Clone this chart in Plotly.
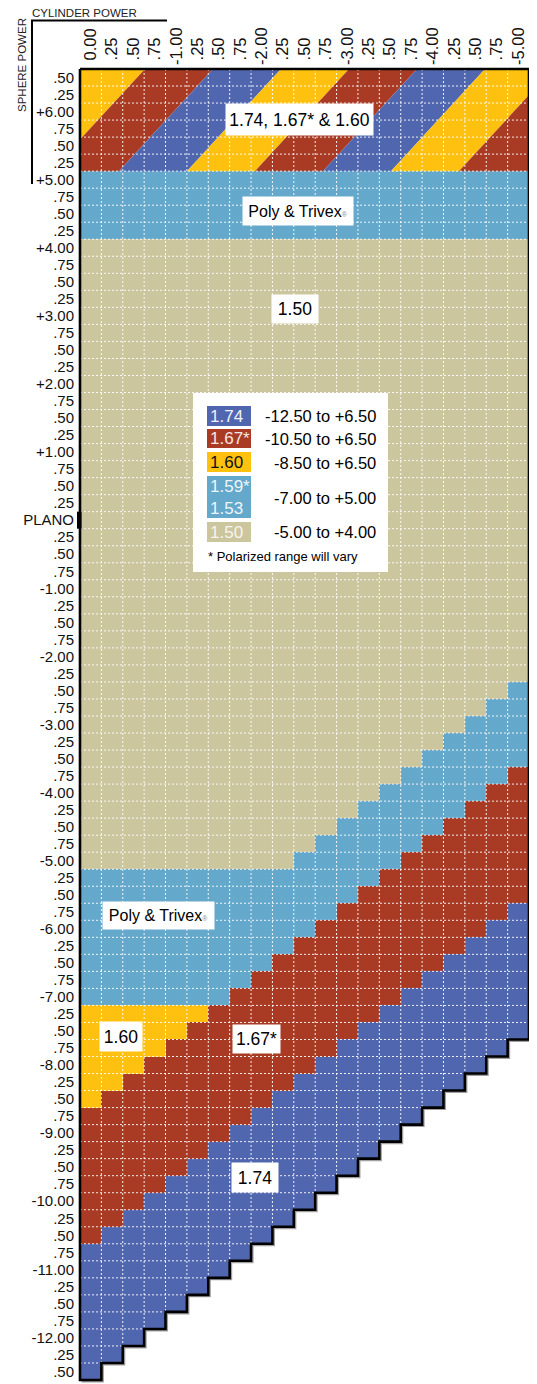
import plotly.graph_objects as go

# ---------------- data ----------------
cyl_values = [0.00, -0.25, -0.50, -0.75, -1.00, -1.25, -1.50, -1.75, -2.00, -2.25, -2.50,
              -2.75, -3.00, -3.25, -3.50, -3.75, -4.00, -4.25, -4.50, -4.75, -5.00]
cyl_labels = ["0.00", ".25", ".50", ".75", "-1.00", ".25", ".50", ".75", "-2.00", ".25", ".50",
              ".75", "-3.00", ".25", ".50", ".75", "-4.00", ".25", ".50", ".75", "-5.00"]

sphere_values = [6.50, 6.25, 6.00, 5.75, 5.50, 5.25, 5.00, 4.75, 4.50, 4.25, 4.00, 3.75, 3.50,
                 3.25, 3.00, 2.75, 2.50, 2.25, 2.00, 1.75, 1.50, 1.25, 1.00, 0.75, 0.50, 0.25,
                 0.00, -0.25, -0.50, -0.75, -1.00, -1.25, -1.50, -1.75, -2.00, -2.25, -2.50,
                 -2.75, -3.00, -3.25, -3.50, -3.75, -4.00, -4.25, -4.50, -4.75, -5.00, -5.25,
                 -5.50, -5.75, -6.00, -6.25, -6.50, -6.75, -7.00, -7.25, -7.50, -7.75, -8.00,
                 -8.25, -8.50, -8.75, -9.00, -9.25, -9.50, -9.75, -10.00, -10.25, -10.50,
                 -10.75, -11.00, -11.25, -11.50, -11.75, -12.00, -12.25, -12.50]
sphere_labels = [".50", ".25", "+6.00", ".75", ".50", ".25", "+5.00", ".75", ".50", ".25", "+4.00",
                 ".75", ".50", ".25", "+3.00", ".75", ".50", ".25", "+2.00", ".75", ".50", ".25",
                 "+1.00", ".75", ".50", ".25", "PLANO", ".25", ".50", ".75", "-1.00", ".25", ".50",
                 ".75", "-2.00", ".25", ".50", ".75", "-3.00", ".25", ".50", ".75", "-4.00", ".25",
                 ".50", ".75", "-5.00", ".25", ".50", ".75", "-6.00", ".25", ".50", ".75", "-7.00",
                 ".25", ".50", ".75", "-8.00", ".25", ".50", ".75", "-9.00", ".25", ".50", ".75",
                 "-10.00", ".25", ".50", ".75", "-11.00", ".25", ".50", ".75", "-12.00", ".25", ".50"]

# one string per sphere row, one character per cylinder column
# S = striped 1.74/1.67/1.60 zone, P = Poly & Trivex, T = 1.50, Y = 1.60, R = 1.67, B = 1.74, . = none
grid_rows = [
    "SSSSSSSSSSSSSSSSSSSSS",  # +6.50
    "SSSSSSSSSSSSSSSSSSSSS",
    "SSSSSSSSSSSSSSSSSSSSS",  # +6.00
    "SSSSSSSSSSSSSSSSSSSSS",
    "SSSSSSSSSSSSSSSSSSSSS",
    "SSSSSSSSSSSSSSSSSSSSS",
    "PPPPPPPPPPPPPPPPPPPPP",  # +5.00
    "PPPPPPPPPPPPPPPPPPPPP",
    "PPPPPPPPPPPPPPPPPPPPP",
    "PPPPPPPPPPPPPPPPPPPPP",
    "TTTTTTTTTTTTTTTTTTTTT",  # +4.00
    "TTTTTTTTTTTTTTTTTTTTT",
    "TTTTTTTTTTTTTTTTTTTTT",
    "TTTTTTTTTTTTTTTTTTTTT",
    "TTTTTTTTTTTTTTTTTTTTT",  # +3.00
    "TTTTTTTTTTTTTTTTTTTTT",
    "TTTTTTTTTTTTTTTTTTTTT",
    "TTTTTTTTTTTTTTTTTTTTT",
    "TTTTTTTTTTTTTTTTTTTTT",  # +2.00
    "TTTTTTTTTTTTTTTTTTTTT",
    "TTTTTTTTTTTTTTTTTTTTT",
    "TTTTTTTTTTTTTTTTTTTTT",
    "TTTTTTTTTTTTTTTTTTTTT",  # +1.00
    "TTTTTTTTTTTTTTTTTTTTT",
    "TTTTTTTTTTTTTTTTTTTTT",
    "TTTTTTTTTTTTTTTTTTTTT",
    "TTTTTTTTTTTTTTTTTTTTT",  # PLANO
    "TTTTTTTTTTTTTTTTTTTTT",
    "TTTTTTTTTTTTTTTTTTTTT",
    "TTTTTTTTTTTTTTTTTTTTT",
    "TTTTTTTTTTTTTTTTTTTTT",  # -1.00
    "TTTTTTTTTTTTTTTTTTTTT",
    "TTTTTTTTTTTTTTTTTTTTT",
    "TTTTTTTTTTTTTTTTTTTTT",
    "TTTTTTTTTTTTTTTTTTTTT",  # -2.00
    "TTTTTTTTTTTTTTTTTTTTT",
    "TTTTTTTTTTTTTTTTTTTTP",
    "TTTTTTTTTTTTTTTTTTTPP",
    "TTTTTTTTTTTTTTTTTTPPP",  # -3.00
    "TTTTTTTTTTTTTTTTTPPPP",
    "TTTTTTTTTTTTTTTTPPPPP",
    "TTTTTTTTTTTTTTTPPPPPR",
    "TTTTTTTTTTTTTTPPPPPRR",  # -4.00
    "TTTTTTTTTTTTTPPPPPRRR",
    "TTTTTTTTTTTTPPPPPRRRR",
    "TTTTTTTTTTTPPPPPRRRRR",
    "TTTTTTTTTTPPPPPRRRRRR",  # -5.00
    "PPPPPPPPPPPPPPRRRRRRR",
    "PPPPPPPPPPPPPRRRRRRRR",
    "PPPPPPPPPPPPRRRRRRRRB",
    "PPPPPPPPPPPRRRRRRRRBB",  # -6.00
    "PPPPPPPPPPRRRRRRRRBBB",
    "PPPPPPPPPRRRRRRRRBBBB",
    "PPPPPPPPRRRRRRRRBBBBB",
    "PPPPPPPRRRRRRRRBBBBBB",  # -7.00
    "YYYYYYRRRRRRRRBBBBBBB",
    "YYYYYRRRRRRRRBBBBBBBB",
    "YYYYRRRRRRRRBBBBBBBB.",
    "YYYRRRRRRRRBBBBBBBB..",  # -8.00
    "YYRRRRRRRRBBBBBBBB...",
    "YRRRRRRRRBBBBBBBB....",
    "RRRRRRRRBBBBBBBB.....",
    "RRRRRRRBBBBBBBB......",  # -9.00
    "RRRRRRBBBBBBBB.......",
    "RRRRRBBBBBBBB........",
    "RRRRBBBBBBBB.........",
    "RRRBBBBBBBB..........",  # -10.00
    "RRBBBBBBBB...........",
    "RBBBBBBBB............",
    "BBBBBBBB.............",
    "BBBBBBB..............",  # -11.00
    "BBBBBB...............",
    "BBBBB................",
    "BBBB.................",
    "BBB..................",  # -12.00
    "BB...................",
    "B....................",
]

material_codes = ["T", "P", "Y", "R", "B"]
material_names = ["1.50", "Poly & Trivex (1.53 / 1.59*)", "1.60", "1.67*", "1.74"]
material_colors = ["#CCC69E", "#64A8CB", "#FEC10F", "#A93B25", "#5067B0"]

legend_labels = ["1.74", "1.67*", "1.60", "1.59*<br>1.53", "1.50"]
legend_ranges = ["-12.50 to +6.50", "-10.50 to +6.50", "-8.50 to +6.50", "-7.00 to +5.00", "-5.00 to +4.00"]
legend_codes = ["B", "R", "Y", "P", "T"]

# diagonal stripes of the high-plus zone (in dioptres of cylinder)
stripe_cycle = ["Y", "R", "B"]
stripe_first_top = -0.635   # cylinder where the first boundary meets the top edge
stripe_period = 0.795       # horizontal width of one stripe
stripe_shift = 1.10         # horizontal drift of a boundary over the striped band

FONT = "Liberation Sans, Arial, Helvetica, sans-serif"

# ---------------- derived geometry ----------------
half = 0.125
left_edge = cyl_values[0] + half
right_edge = cyl_values[-1] - half
top_edge = sphere_values[0] + half
bottom_edge = sphere_values[-1] - half
pad_x, pad_y = 0.035, 0.044

code_index = {c: i for i, c in enumerate(material_codes)}
row_end = [len(r.rstrip(".")) for r in grid_rows]

z, hover = [], []
for j, row in enumerate(grid_rows):
    zr, hr = [], []
    for c, ch in enumerate(row):
        if ch in code_index:
            zr.append(code_index[ch])
            hr.append(material_names[code_index[ch]])
        else:
            zr.append(None)
            hr.append("1.74, 1.67* & 1.60" if ch == "S" else "")
    z.append(zr)
    hover.append(hr)

n = len(material_codes)
colorscale = []
for i, col in enumerate(material_colors):
    colorscale.append([i / n, col])
    colorscale.append([(i + 1) / n, col])

fig = go.Figure()

# striped zone
stripe_rows = [j for j, r in enumerate(grid_rows) if r.startswith("S")]
s_top = sphere_values[stripe_rows[0]] + half
s_bot = sphere_values[stripe_rows[-1]] - half


def boundary(k, s):
    return stripe_first_top - k * stripe_period + stripe_shift * (s_top - s) / (s_top - s_bot)


def clip(poly, keep, inter):
    out = []
    for i in range(len(poly)):
        p, q = poly[i - 1], poly[i]
        if keep(q):
            if not keep(p):
                out.append(inter(p, q))
            out.append(q)
        elif keep(p):
            out.append(inter(p, q))
    return out


def x_cut(xc):
    def f(p, q):
        t = (xc - p[0]) / (q[0] - p[0])
        return (xc, p[1] + t * (q[1] - p[1]))
    return f


for i in range(-1, 10):
    poly = [(boundary(i - 1, s_top), s_top), (boundary(i, s_top), s_top),
            (boundary(i, s_bot), s_bot), (boundary(i - 1, s_bot), s_bot)]
    poly = clip(poly, lambda p: p[0] <= left_edge, x_cut(left_edge))
    if poly:
        poly = clip(poly, lambda p: p[0] >= right_edge, x_cut(right_edge))
    if len(poly) < 3:
        continue
    color = material_colors[code_index[stripe_cycle[i % 3]]]
    fig.add_trace(go.Scatter(x=[p[0] for p in poly] + [poly[0][0]], y=[p[1] for p in poly] + [poly[0][1]],
                             mode="lines", fill="toself", fillcolor=color, line=dict(width=0, color=color),
                             hoverinfo="skip", showlegend=False))

fig.add_trace(go.Heatmap(x=cyl_values, y=sphere_values, z=z, text=hover, zmin=-0.5, zmax=n - 0.5,
                         colorscale=colorscale, showscale=False, hoverongaps=False,
                         hovertemplate="Sphere %{y:+.2f}<br>Cylinder %{x:.2f}<br>%{text}<extra></extra>"))

# dashed white cell grid
gx, gy = [], []
for j in range(len(grid_rows) - 1):
    m = min(row_end[j], row_end[j + 1])
    yb = sphere_values[j] - half
    gx += [left_edge, cyl_values[m - 1] - half, None]
    gy += [yb, yb, None]
for c in range(len(cyl_values) - 1):
    rows = [j for j in range(len(grid_rows)) if row_end[j] >= c + 2]
    xb = cyl_values[c] - half
    gx += [xb, xb, None]
    gy += [top_edge, sphere_values[rows[-1]] - half, None]
fig.add_trace(go.Scatter(x=gx, y=gy, mode="lines", hoverinfo="skip", showlegend=False,
                         line=dict(color="rgba(255,255,255,0.9)", width=1, dash="2px,2px")))

# grey drop shadow along the staircase edge
full = len(cyl_values)
first_step = next(j for j in range(len(grid_rows)) if row_end[j] < full)
sh_dx, sh_dy = -0.018, -0.022
sx, sy = [], []
for j in range(first_step - 1, len(grid_rows)):
    xr = cyl_values[row_end[j] - 1] - half
    sx += [xr + sh_dx, xr + sh_dx]
    sy += [sphere_values[j] + half + sh_dy, sphere_values[j] - half + sh_dy]
sx += [left_edge + sh_dx]
sy += [bottom_edge + sh_dy]
fig.add_trace(go.Scatter(x=sx, y=sy, mode="lines", hoverinfo="skip", showlegend=False,
                         line=dict(color="#a0a0a0", width=2)))

# black outline with staircase
ox, oy = [left_edge, right_edge], [top_edge, top_edge]
for j in range(len(grid_rows)):
    xr = cyl_values[row_end[j] - 1] - half
    ox += [xr, xr]
    oy += [sphere_values[j] + half, sphere_values[j] - half]
ox += [left_edge, left_edge]
oy += [bottom_edge, top_edge]
fig.add_trace(go.Scatter(x=ox, y=oy, mode="lines", hoverinfo="skip", showlegend=False,
                         line=dict(color="black", width=2.6)))

# ---------------- layout helpers (screen pixel -> paper) ----------------
OFF = 8                      # page body margin of the browser
W, H = 537 - OFF, 1384 - OFF
ML, MR, MT, MB = 69, 5, 58, 1
PW, PH = W - ML - MR, H - MT - MB


def pxx(x):
    return (x - OFF - ML) / PW


def pxy(y):
    return 1 - (y - OFF - MT) / PH


shapes = []
annotations = []

# PLANO marker
shapes.append(dict(type="rect", xref="x", yref="y", xsizemode="pixel", xanchor=left_edge,
                   x0=-3.5, x1=1.5, y0=-half, y1=half, fillcolor="black", line=dict(width=0), layer="above"))

# header bracket
shapes.append(dict(type="line", xref="paper", yref="paper", x0=pxx(31), x1=pxx(167), y0=pxy(20.5), y1=pxy(20.5),
                   line=dict(color="black", width=2)))
shapes.append(dict(type="line", xref="paper", yref="paper", x0=pxx(32), x1=pxx(32), y0=pxy(20.5), y1=pxy(184),
                   line=dict(color="black", width=2)))
annotations.append(dict(text="CYLINDER POWER", xref="paper", yref="paper", x=pxx(31), y=pxy(13),
                        xanchor="left", yanchor="middle", showarrow=False, borderpad=0,
                        font=dict(family=FONT, size=11.5, color="#222")))
annotations.append(dict(text="SPHERE POWER", xref="paper", yref="paper", x=pxx(22), y=pxy(65), textangle=-90,
                        xanchor="center", yanchor="middle", showarrow=False, borderpad=0,
                        font=dict(family=FONT, size=11.5, color="#222")))

# in-chart labels (white boxes)
reg = "<span style='font-size:7px;color:#8a8a8a'>®</span>"
box_labels = [
    ("1.74, 1.67* & 1.60", -2.441, 5.883, 147, 31, 17.5),
    ("Poly & Trivex" + reg, -2.424, 4.540, 110, 28, 16),
    ("1.50", -2.389, 3.101, 46, 28, 17.5),
    ("Poly & Trivex" + reg, -0.793, -5.805, 111, 27, 16),
    ("1.60", -0.354, -7.582, 42, 29, 17.5),
    ("1.67*", -1.939, -7.619, 47, 28, 17.5),
    ("1.74", -1.921, -9.653, 46, 29, 17.5),
]
for txt, bx, by, bw, bh, fs in box_labels:
    annotations.append(dict(text=txt, x=bx, y=by, xref="x", yref="y", showarrow=False, bgcolor="white",
                            width=bw, height=bh, borderpad=0, xanchor="center", yanchor="middle",
                            font=dict(family=FONT, size=fs, color="black")))

# legend box
shapes.append(dict(type="rect", xref="paper", yref="paper", x0=pxx(193), x1=pxx(388), y0=pxy(393), y1=pxy(572),
                   fillcolor="white", line=dict(width=0), layer="above"))
sw_top = [406, 429, 452, 476, 522]
sw_bot = [426, 448, 472, 518, 542]
txt_colors = ["#EEF0FA", "#F6E6E2", "#111111", "#EEF6FA", "#F6F5EE"]
for k, code in enumerate(legend_codes):
    shapes.append(dict(type="rect", xref="paper", yref="paper", x0=pxx(207), x1=pxx(251),
                       y0=pxy(sw_top[k]), y1=pxy(sw_bot[k]), fillcolor=material_colors[code_index[code]],
                       line=dict(width=0), layer="above"))
    cy = (sw_top[k] + sw_bot[k]) / 2
    annotations.append(dict(text=legend_labels[k], xref="paper", yref="paper", x=pxx(208.5), y=pxy(cy + 0.5),
                            xanchor="left", yanchor="middle", align="left", showarrow=False, borderpad=0,
                            font=dict(family=FONT, size=17, color=txt_colors[k])))
    annotations.append(dict(text=legend_ranges[k], xref="paper", yref="paper", x=pxx(377), y=pxy(cy + 0.5),
                            xanchor="right", yanchor="middle", showarrow=False, borderpad=0,
                            font=dict(family=FONT, size=16.5, color="black")))
annotations.append(dict(text="* Polarized range will vary", xref="paper", yref="paper", x=pxx(207), y=pxy(556),
                        xanchor="left", yanchor="middle", showarrow=False, borderpad=0,
                        font=dict(family=FONT, size=13, color="black")))

x_ticktext = [t if t.startswith("-") else "\u00a0" + t for t in cyl_labels]

fig.update_layout(
    width=W, height=H, margin=dict(l=ML, r=MR, t=MT, b=MB, autoexpand=False),
    paper_bgcolor="white", plot_bgcolor="white", showlegend=False,
    font=dict(family=FONT, size=15, color="#111"),
    shapes=shapes, annotations=annotations,
    xaxis=dict(side="top", range=[left_edge + pad_x, right_edge - pad_x], tickvals=cyl_values,
               ticktext=x_ticktext, tickangle=-90, ticks="", showgrid=False, zeroline=False,
               showline=False, tickfont=dict(family=FONT, size=16.5, color="#111"), fixedrange=True),
    yaxis=dict(range=[bottom_edge - pad_y, top_edge + pad_y], tickvals=sphere_values, ticktext=sphere_labels,
               ticks="", showgrid=False, zeroline=False, showline=False, ticklabelstandoff=2,
               tickfont=dict(family=FONT, size=15, color="#111"), fixedrange=True),
)

fig.write_html("out.html")
